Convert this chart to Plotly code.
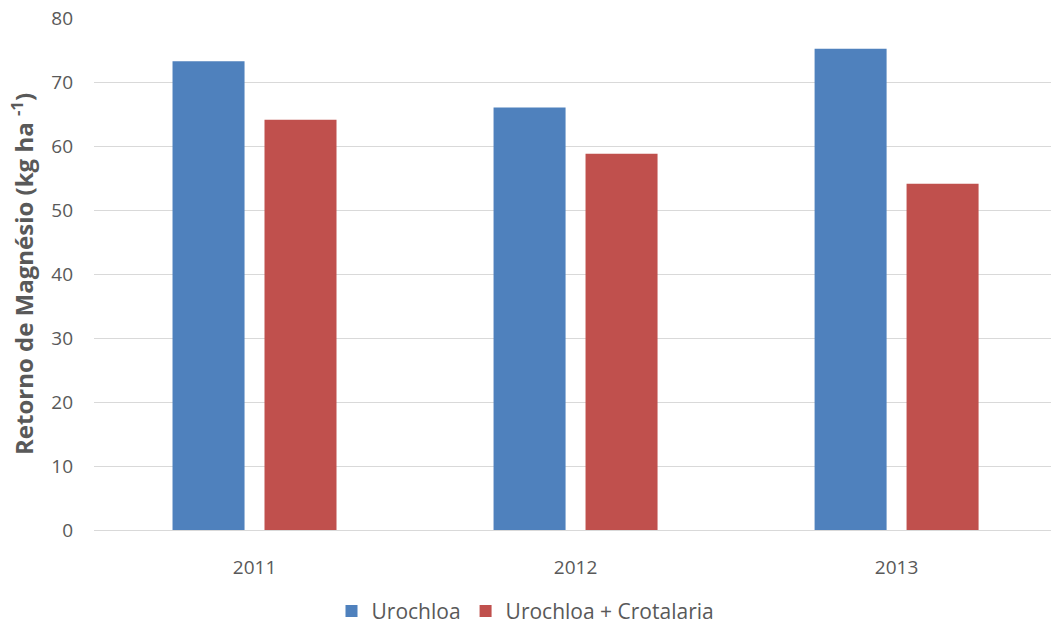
import plotly.graph_objects as go

anos = ["2011", "2012", "2013"]
urochloa = [73.25, 66.0, 75.2]
urochloa_crotalaria = [64.1, 58.8, 54.1]
y_ticks = [0, 10, 20, 30, 40, 50, 60, 70, 80]

FONT = "Open Sans"
GREY = "#595959"

fig = go.Figure()
fig.add_trace(go.Bar(name="Urochloa", x=anos, y=urochloa,
                     marker=dict(color="#4F81BD", line=dict(width=0))))
fig.add_trace(go.Bar(name="Urochloa + Crotalaria", x=anos, y=urochloa_crotalaria,
                     marker=dict(color="#C0504D", line=dict(width=0))))

fig.update_layout(
    width=1051, height=625,
    margin=dict(l=94, r=0, t=18, b=95, autoexpand=False),
    paper_bgcolor="white", plot_bgcolor="white",
    barmode="group", bargap=0.427, bargroupgap=0.217,
    font=dict(family=FONT, size=18, color=GREY),
    showlegend=True,
    legend=dict(orientation="h", x=0.5, xanchor="center", xref="container",
                y=0.022, yanchor="middle", yref="container",
                font=dict(family=FONT, size=21, color=GREY), itemwidth=30,
                traceorder="normal"),
    xaxis=dict(range=[-0.5, 2.481], showgrid=False, showline=True,
               linecolor="#D9D9D9", linewidth=1, ticks="",
               ticklabelstandoff=20, tickfont=dict(size=19, color=GREY)),
    yaxis=dict(range=[0, 80], tickvals=y_ticks, showgrid=True, gridcolor="#D9D9D9",
               gridwidth=1, zeroline=False, showline=False, ticks="",
               ticklabelstandoff=20, tickfont=dict(size=19, color=GREY),
               title=dict(text="<b>Retorno de Magnésio (kg ha <sup>-1</sup>)</b>",
                          font=dict(size=24, color=GREY, family=FONT), standoff=10)),
)

fig.write_html("out.html")
